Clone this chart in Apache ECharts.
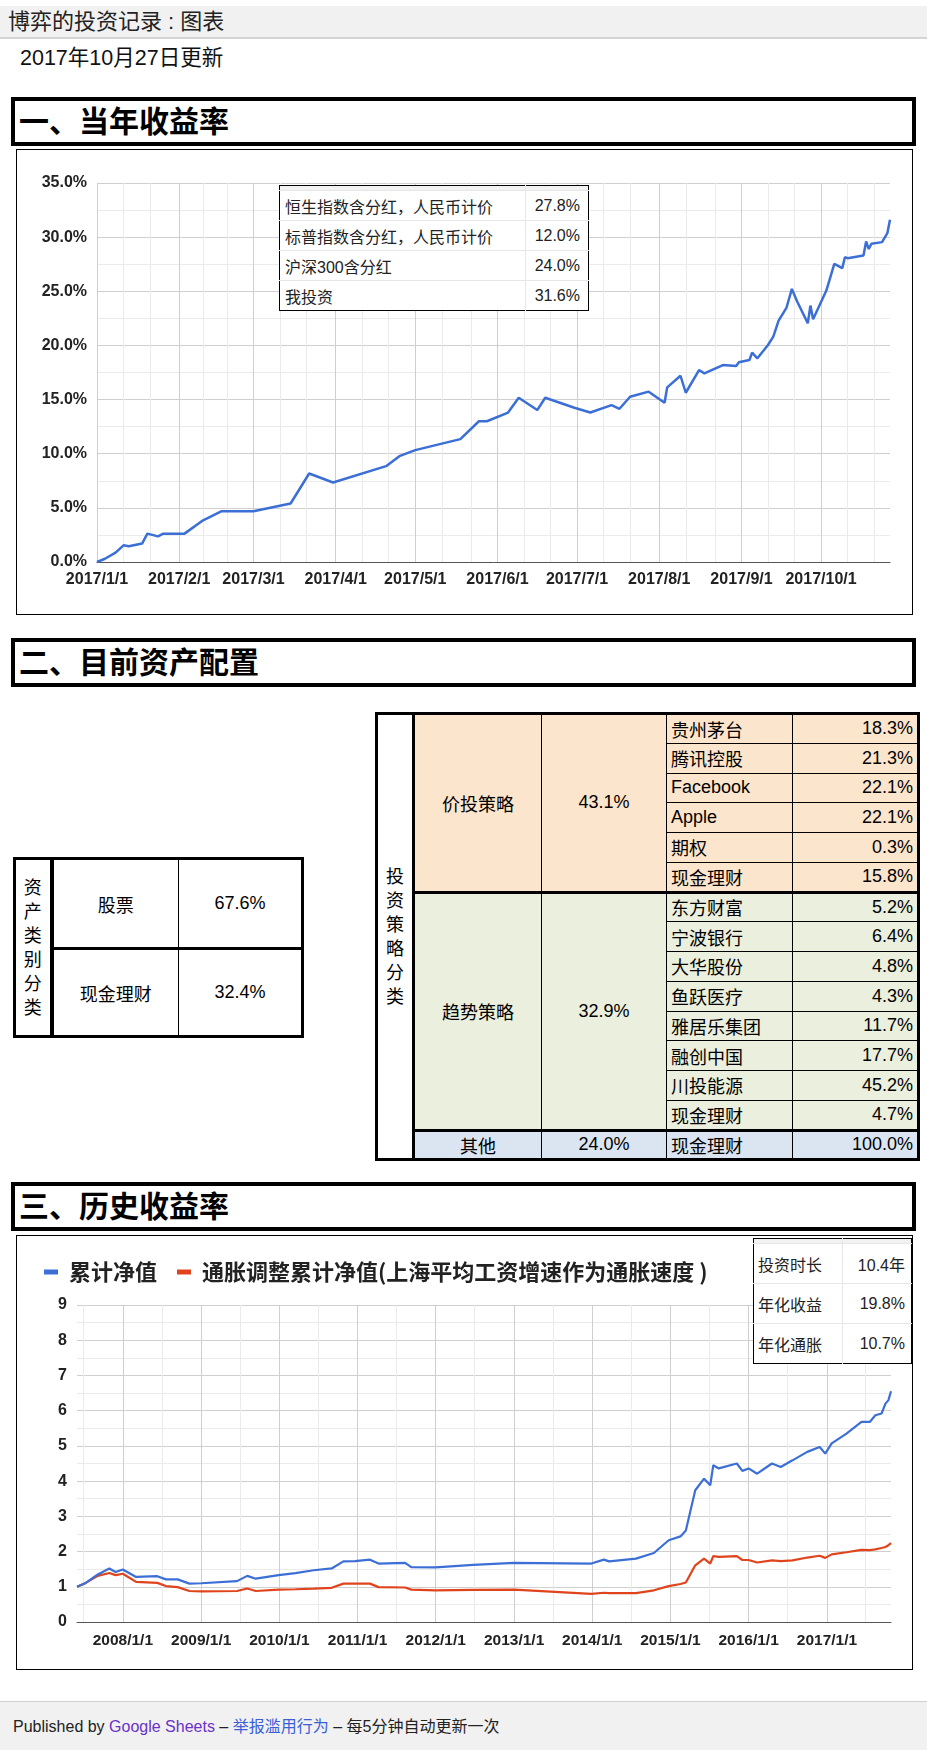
<!DOCTYPE html>
<html>
<head>
<meta charset="utf-8">
<title>博弈的投资记录 : 图表</title>
<script src="https://cdn.jsdelivr.net/npm/echarts@6/dist/echarts.min.js"></script>
<style>
	body { margin: 0; width: 927px; height: 1750px; position: relative; background: #fff;
		font-family: "Liberation Sans", Arial, "Noto Sans CJK SC", sans-serif; color: #000; overflow: hidden; }
	.abs { position: absolute; }
	#topbar { left: 0; top: 6px; width: 927px; height: 31px; background: #f1f1f1; border-bottom: 2px solid #d4d4d4;
		font-size: 22px; line-height: 31px; color: #222; }
	#topbar span { padding-left: 8px; }
	#updated { left: 20px; top: 46px; font-size: 21.5px; line-height: 24px; color: #111; }
	.section { left: 11px; width: 905px; height: 49px; box-sizing: border-box; border: 4px solid #000;
		font-weight: bold; font-size: 30px; line-height: 41px; padding-left: 4px; }
	.chartbox { left: 16px; width: 897px; box-sizing: border-box; border: 1px solid #000; background: #fff; }
	.chartbox > div.ec { position: absolute; left: 0; top: 0; width: 100%; height: 100%; }
	table.sheet { position: absolute; border-collapse: collapse; table-layout: fixed; font-size: 18px; }
	table.sheet td { border: 1px solid #000; padding: 0; text-align: center; vertical-align: middle; white-space: nowrap; }
	table.sheet td.vert { line-height: 24px; background: #fff; }
	table.sheet td.name { text-align: left; padding-left: 4px; }
	table.sheet td.pct { text-align: right; padding-right: 4px; }
	.peach { background: #fce5cd; }
	.green { background: #ebefdd; }
	.blue { background: #dbe5f1; }
	table.legendtab { position: absolute; border-collapse: collapse; background: #fff; border: 1px solid #000;
		font-size: 16px; color: #222; }
	table.legendtab td { padding: 0; border-top: 1px solid #e6e6e6; white-space: nowrap; }
	table.legendtab td + td { border-left: 1px solid #e6e6e6; text-align: right; }
	#footer { left: 0; top: 1701px; width: 927px; height: 49px; background: #f1f1f1; border-top: 1px solid #d0d0d0;
		font-size: 16px; line-height: 50px; color: #222; }
	#footer span.pad { padding-left: 13px; }
	#footer .gs { color: #6a32c8; }
	#footer .rep { color: #3b5fd6; }
</style>
</head>
<body>
<div id="topbar" class="abs"><span>博弈的投资记录 : 图表</span></div>
<div id="updated" class="abs">2017年10月27日更新</div>

<div class="abs section" style="top:97px;">一、当年收益率</div>
<div class="abs chartbox" style="top:149px;height:466px;">
	<div class="ec" id="ytd"></div>
</div>
<table class="legendtab" style="left:279px;top:185px;width:310px;">
	<tr style="height:5px;background:#f2f2f2;"><td style="border-top:none;"></td><td style="border-top:none;"></td></tr>
	<tbody id="ytdLegend"></tbody>
</table>

<div class="abs section" style="top:638px;">二、目前资产配置</div>
<table class="sheet" id="assetTab" style="left:13px;top:857px;width:288px;border:3px solid #000;">
	<colgroup><col style="width:37px"><col style="width:127px"><col style="width:124px"></colgroup>
</table>
<table class="sheet" id="stratTab" style="left:375px;top:712px;width:542px;border:3px solid #000;">
	<colgroup><col style="width:37px"><col style="width:128px"><col style="width:125px"><col style="width:126px"><col style="width:126px"></colgroup>
</table>

<div class="abs section" style="top:1182px;">三、历史收益率</div>
<div class="abs chartbox" style="top:1235px;height:435px;">
	<div class="ec" id="hist"></div>
</div>
<table class="legendtab" style="left:753px;top:1238px;width:159px;">
	<tr style="height:5px;background:#f2f2f2;"><td style="border-top:none;"></td><td style="border-top:none;"></td></tr>
	<tbody id="histStats"></tbody>
</table>

<div id="footer" class="abs"><span class="pad">Published by <span class="gs">Google Sheets</span> – <span class="rep">举报滥用行为</span> – 每5分钟自动更新一次</span></div>

<script>
// 一、当年收益率
var ytdDates = ["2017-01-01", "2017-01-04", "2017-01-08", "2017-01-11", "2017-01-13", "2017-01-18", "2017-01-20",
	"2017-01-24", "2017-01-26", "2017-02-03", "2017-02-10", "2017-02-17", "2017-03-01", "2017-03-15", "2017-03-22",
	"2017-03-31", "2017-04-20", "2017-04-25", "2017-05-01", "2017-05-18", "2017-05-25", "2017-05-28", "2017-06-05",
	"2017-06-09", "2017-06-16", "2017-06-19", "2017-06-30", "2017-07-06", "2017-07-14", "2017-07-17", "2017-07-21",
	"2017-07-28", "2017-08-03", "2017-08-04", "2017-08-09", "2017-08-11", "2017-08-16", "2017-08-18", "2017-08-25",
	"2017-08-30", "2017-08-31", "2017-09-04", "2017-09-05", "2017-09-07", "2017-09-11", "2017-09-13", "2017-09-15",
	"2017-09-18", "2017-09-20", "2017-09-22", "2017-09-26", "2017-09-27", "2017-09-28", "2017-10-03", "2017-10-06",
	"2017-10-09", "2017-10-10", "2017-10-11", "2017-10-17", "2017-10-18", "2017-10-19", "2017-10-20", "2017-10-24",
	"2017-10-26", "2017-10-27"];
var ytdReturn = [0.0, 0.3, 0.86, 1.54, 1.45, 1.7, 2.62,
	2.37, 2.62, 2.62, 3.85, 4.69, 4.69, 5.4, 8.17,
	7.34, 8.85, 9.77, 10.33, 11.35, 13.0, 13.0, 13.8,
	15.17, 14.03, 15.17, 14.25, 13.81, 14.49, 14.15, 15.26,
	15.73, 14.71, 16.13, 17.2, 15.63, 17.73, 17.42, 18.19,
	18.1, 18.44, 18.65, 19.33, 18.81, 20.04, 20.81, 22.29,
	23.5, 25.22, 24.05, 22.05, 23.68, 22.42, 25.07, 27.54,
	27.14, 28.15, 28.06, 28.31, 29.6, 28.9, 29.39, 29.54,
	30.37, 31.6];
var ytdMonthTicks = ["2017-01-01", "2017-02-01", "2017-03-01", "2017-04-01", "2017-05-01", "2017-06-01",
	"2017-07-01", "2017-08-01", "2017-09-01", "2017-10-01"];
var ytdMinorTicks = ["2017-01-11", "2017-01-21", "2017-02-10", "2017-02-19", "2017-03-11", "2017-03-21",
	"2017-04-11", "2017-04-21", "2017-05-11", "2017-05-22", "2017-06-11", "2017-06-21", "2017-07-11",
	"2017-07-21", "2017-08-11", "2017-08-22", "2017-09-11", "2017-09-21", "2017-10-11", "2017-10-21"];
var ytdLegendNames = ["恒生指数含分红，人民币计价", "标普指数含分红，人民币计价", "沪深300含分红", "我投资"];
var ytdLegendValues = ["27.8%", "12.0%", "24.0%", "31.6%"];

// 二、目前资产配置
var assetNames = ["股票", "现金理财"];
var assetShares = ["67.6%", "32.4%"];
var valueStrategy = ["价投策略", "43.1%"];
var valueNames = ["贵州茅台", "腾讯控股", "Facebook", "Apple", "期权", "现金理财"];
var valueShares = ["18.3%", "21.3%", "22.1%", "22.1%", "0.3%", "15.8%"];
var trendStrategy = ["趋势策略", "32.9%"];
var trendNames = ["东方财富", "宁波银行", "大华股份", "鱼跃医疗", "雅居乐集团", "融创中国", "川投能源", "现金理财"];
var trendShares = ["5.2%", "6.4%", "4.8%", "4.3%", "11.7%", "17.7%", "45.2%", "4.7%"];
var otherRow = ["其他", "24.0%", "现金理财", "100.0%"];

// 三、历史收益率
var histDates = ["2007-06-01", "2007-07-12", "2007-09-06", "2007-10-30", "2007-11-28", "2008-01-01", "2008-03-03",
	"2008-06-10", "2008-07-20", "2008-09-13", "2008-11-07", "2009-01-01", "2009-06-17", "2009-08-04", "2009-09-13",
	"2009-12-28", "2010-03-17", "2010-06-10", "2010-09-02", "2010-10-27", "2010-12-20", "2011-02-28", "2011-04-09",
	"2011-08-11", "2011-09-09", "2012-01-01", "2012-06-24", "2013-01-01", "2013-12-28", "2014-02-24", "2014-03-21",
	"2014-07-24", "2014-10-16", "2014-12-24", "2015-02-17", "2015-03-14", "2015-04-27", "2015-06-07", "2015-07-06",
	"2015-07-20", "2015-08-15", "2015-11-07", "2015-12-03", "2016-01-01", "2016-02-10", "2016-04-19", "2016-05-30",
	"2016-07-24", "2016-10-01", "2016-11-28", "2016-12-24", "2017-01-23", "2017-04-02", "2017-06-11", "2017-07-20",
	"2017-08-15", "2017-09-13", "2017-10-01", "2017-10-15", "2017-10-27"];
var histNav = [1.0, 1.11, 1.35, 1.52, 1.42, 1.49, 1.28,
	1.3, 1.21, 1.21, 1.09, 1.1, 1.16, 1.31, 1.23,
	1.33, 1.39, 1.47, 1.52, 1.72, 1.73, 1.77, 1.66,
	1.68, 1.56, 1.55, 1.62, 1.68, 1.66, 1.77, 1.72,
	1.8, 1.96, 2.32, 2.43, 2.6, 3.74, 4.07, 3.88,
	4.45, 4.36, 4.5, 4.29, 4.36, 4.21, 4.5, 4.4,
	4.59, 4.83, 4.97, 4.78, 5.07, 5.35, 5.68, 5.68,
	5.87, 5.92, 6.2, 6.3, 6.55];
var histRealNav = [1.0, 1.11, 1.31, 1.39, 1.33, 1.37, 1.14,
	1.11, 1.02, 0.99, 0.88, 0.87, 0.88, 0.95, 0.88,
	0.92, 0.93, 0.95, 0.97, 1.09, 1.09, 1.09, 0.99,
	0.98, 0.92, 0.9, 0.91, 0.92, 0.8, 0.83, 0.82,
	0.82, 0.9, 1.02, 1.08, 1.12, 1.61, 1.8, 1.66,
	1.87, 1.85, 1.87, 1.76, 1.76, 1.69, 1.75, 1.73,
	1.75, 1.83, 1.88, 1.82, 1.92, 1.98, 2.05, 2.04,
	2.06, 2.1, 2.13, 2.18, 2.24];
var histYearTicks = ["2008-01-01", "2009-01-01", "2010-01-01", "2011-01-01", "2012-01-01", "2013-01-01",
	"2014-01-01", "2015-01-01", "2016-01-01", "2017-01-01"];
var histHalfTicks = ["2007-07-01", "2008-07-01", "2009-07-01", "2010-07-01", "2011-07-01", "2012-07-01",
	"2013-07-01", "2014-07-01", "2015-07-01", "2016-07-01", "2017-07-01"];
var histStatNames = ["投资时长", "年化收益", "年化通胀"];
var histStatValues = ["10.4年", "19.8%", "10.7%"];

function ts(s) {
	var p = s.split("-");
	return Date.UTC(+p[0], +p[1] - 1, +p[2]);
}
function dateLabel(v) {
	var d = new Date(v);
	return d.getUTCFullYear() + "/" + (d.getUTCMonth() + 1) + "/" + d.getUTCDate();
}
function pairs(dates, values) {
	return dates.map(function (d, i) { return [ts(d), values[i]]; });
}

// 表格
function legendRows(id, names, values, rowH, padL, padR) {
	var html = "";
	names.forEach(function (n, i) {
		html += '<tr style="height:' + rowH + 'px"><td style="padding-left:' + padL + 'px">' + n +
			'</td><td style="padding-right:' + padR + 'px">' + values[i] + "</td></tr>";
	});
	document.getElementById(id).innerHTML = html;
}
legendRows("ytdLegend", ytdLegendNames, ytdLegendValues, 30, 5, 8);
legendRows("histStats", histStatNames, histStatValues, 40, 4, 6);

(function () {
	var t = document.getElementById("assetTab");
	var html = '<tr style="height:90px"><td rowspan="2" class="vert" style="border-right:4px solid #000">资<br>产<br>类<br>别<br>分<br>类</td>' +
		"<td>" + assetNames[0] + "</td><td>" + assetShares[0] + "</td></tr>";
	html += '<tr style="height:88px"><td style="border-top:3px solid #000">' + assetNames[1] +
		'</td><td style="border-top:3px solid #000">' + assetShares[1] + "</td></tr>";
	t.insertAdjacentHTML("beforeend", html);

	var s = document.getElementById("stratTab");
	var h = "";
	var rowH = "29.75px";
	var thick = "border-top:3px solid #000;";
	valueNames.forEach(function (n, i) {
		h += '<tr style="height:' + rowH + '">';
		if (i === 0) {
			h += '<td rowspan="15" class="vert" style="border-right:3px solid #000">投<br>资<br>策<br>略<br>分<br>类</td>';
			h += '<td rowspan="6" class="peach">' + valueStrategy[0] + '</td><td rowspan="6" class="peach">' + valueStrategy[1] + "</td>";
		}
		h += '<td class="peach name">' + n + '</td><td class="peach pct">' + valueShares[i] + "</td></tr>";
	});
	trendNames.forEach(function (n, i) {
		var b = i === 0 ? thick : "";
		h += '<tr style="height:' + rowH + '">';
		if (i === 0) {
			h += '<td rowspan="8" class="green" style="' + b + '">' + trendStrategy[0] + '</td><td rowspan="8" class="green" style="' + b + '">' + trendStrategy[1] + "</td>";
		}
		h += '<td class="green name" style="' + b + '">' + n + '</td><td class="green pct" style="' + b + '">' + trendShares[i] + "</td></tr>";
	});
	h += '<tr style="height:' + rowH + '"><td class="blue" style="' + thick + '">' + otherRow[0] + '</td><td class="blue" style="' + thick + '">' + otherRow[1] +
		'</td><td class="blue name" style="' + thick + '">' + otherRow[2] + '</td><td class="blue pct" style="' + thick + '">' + otherRow[3] + "</td></tr>";
	s.insertAdjacentHTML("beforeend", h);
})();

var axisFont = {
	fontFamily: "Liberation Sans, Arial, Noto Sans CJK SC",
	fontWeight: "bold",
	fontSize: 16,
	color: "#222"
};

// 当年收益率 折线图
function YtdLine(dom) {
	var myChart = echarts.init(dom, null, { renderer: "canvas" });
	var xMin = ts(ytdDates[0]);
	var xMax = ts(ytdDates[ytdDates.length - 1]);
	var major = ytdMonthTicks.map(ts);
	var minor = ytdMinorTicks.map(ts);
	var option = {
		animation: false,
		grid: { left: 80, right: 22, top: 33, bottom: 52 },
		xAxis: [
			{
				type: "value",
				min: xMin,
				max: xMax,
				axisLine: { show: true, lineStyle: { color: "#555", width: 1 } },
				axisTick: { show: false, customValues: major },
				axisLabel: Object.assign({ customValues: major, formatter: dateLabel, margin: 10 }, axisFont),
				splitLine: { show: true, lineStyle: { color: "#cfcfcf" } }
			},
			{
				type: "value",
				min: xMin,
				max: xMax,
				axisLine: { show: false },
				axisTick: { show: false, customValues: minor },
				axisLabel: { show: false, customValues: minor },
				splitLine: { show: true, lineStyle: { color: "#ebebeb" } }
			}
		],
		yAxis: {
			type: "value",
			min: 0,
			max: 35,
			interval: 5,
			axisLine: { show: false },
			axisTick: { show: false },
			axisLabel: Object.assign({
				margin: 10,
				formatter: function (v) { return v.toFixed(1) + "%"; }
			}, axisFont),
			splitLine: { lineStyle: { color: "#cfcfcf" } },
			minorTick: { show: false, splitNumber: 2 },
			minorSplitLine: { show: true, lineStyle: { color: "#ebebeb" } }
		},
		series: [
			{
				name: "我投资",
				type: "line",
				xAxisIndex: 0,
				data: pairs(ytdDates, ytdReturn),
				symbol: "none",
				lineStyle: { color: "#3c6fd6", width: 2.5 },
				z: 5
			}
		]
	};
	myChart.setOption(option);
}

// 历史收益率 折线图
function HistLine(dom) {
	var myChart = echarts.init(dom, null, { renderer: "canvas" });
	var xMin = ts(histDates[0]);
	var xMax = ts(histDates[histDates.length - 1]);
	var major = histYearTicks.map(ts);
	var minor = histHalfTicks.map(ts);
	var option = {
		animation: false,
		color: ["#3c6fd6", "#e0441c"],
		legend: {
			left: 22,
			top: 20,
			icon: "rect",
			itemWidth: 14,
			itemHeight: 5,
			itemGap: 20,
			textStyle: {
				fontFamily: "Noto Sans CJK SC, Liberation Sans",
				fontWeight: "bold",
				fontSize: 22,
				color: "#222",
				padding: [0, 0, 0, 6]
			}
		},
		grid: { left: 60, right: 21, top: 69, bottom: 47 },
		xAxis: [
			{
				type: "value",
				min: xMin,
				max: xMax,
				axisLine: { show: true, lineStyle: { color: "#555", width: 1 } },
				axisTick: { show: false, customValues: major },
				axisLabel: Object.assign({ customValues: major, formatter: dateLabel, margin: 11 }, axisFont, { fontSize: 15.5 }),
				splitLine: { show: true, lineStyle: { color: "#cfcfcf" } }
			},
			{
				type: "value",
				min: xMin,
				max: xMax,
				axisLine: { show: false },
				axisTick: { show: false, customValues: minor },
				axisLabel: { show: false, customValues: minor },
				splitLine: { show: true, lineStyle: { color: "#ebebeb" } }
			}
		],
		yAxis: {
			type: "value",
			min: 0,
			max: 9,
			interval: 1,
			axisLine: { show: false },
			axisTick: { show: false },
			axisLabel: Object.assign({ margin: 10 }, axisFont, { fontSize: 16 }),
			splitLine: { lineStyle: { color: "#cfcfcf" } },
			minorTick: { show: false, splitNumber: 2 },
			minorSplitLine: { show: true, lineStyle: { color: "#ebebeb" } }
		},
		series: [
			{
				name: "累计净值",
				type: "line",
				data: pairs(histDates, histNav),
				symbol: "none",
				lineStyle: { width: 2.2 },
				z: 5
			},
			{
				name: "通胀调整累计净值(上海平均工资增速作为通胀速度 )",
				type: "line",
				data: pairs(histDates, histRealNav),
				symbol: "none",
				lineStyle: { width: 2.2 },
				z: 4
			}
		]
	};
	myChart.setOption(option);
}

YtdLine(document.getElementById("ytd"));
HistLine(document.getElementById("hist"));
</script>
</body>
</html>
